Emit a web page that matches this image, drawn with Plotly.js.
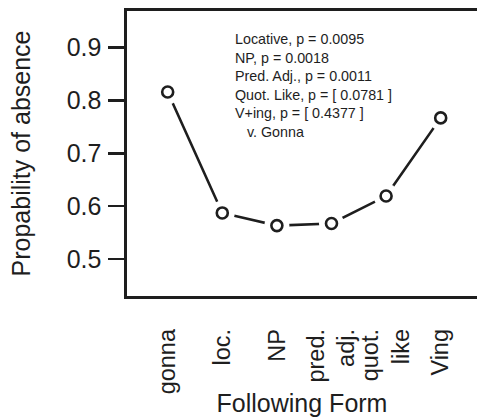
<!DOCTYPE html>
<html>
<head>
<meta charset="utf-8">
<script src="https://cdn.plot.ly/plotly-3.0.1.min.js"></script>
<style>html,body{margin:0;padding:0;background:#fff;}#chart{width:477px;height:417px;}</style>
</head>
<body>
<div id="chart"></div>
<script>
// Data
var categories = ["gonna", "loc.", "NP", "pred.<br>adj.", "quot.<br>like", "Ving"];
var probAbsence = [0.816, 0.587, 0.563, 0.567, 0.619, 0.767];
var yTickValues = [0.5, 0.6, 0.7, 0.8, 0.9];
var yTickLabels = ["0.5", "0.6", "0.7", "0.8", "0.9"];
var noteLines = [
  "Locative, p = 0.0095",
  "NP, p = 0.0018",
  "Pred. Adj., p = 0.0011",
  "Quot. Like, p = [ 0.0781 ]",
  "V+ing, p = [ 0.4377 ]",
  "   v. Gonna"
];

var xs = categories.map(function(_, i){ return i + 1; });
var ink = "#1e1e1e";
var font = "Liberation Sans, Arial, Helvetica, sans-serif";

var traces = [
  {x: xs, y: probAbsence, mode: "lines", line: {color: ink, width: 2.6}, hoverinfo: "skip", showlegend: false},
  {x: xs, y: probAbsence, mode: "markers", marker: {color: "#ffffff", size: 25, line: {width: 0}}, hoverinfo: "skip", showlegend: false},
  {x: xs, y: probAbsence, mode: "markers", marker: {symbol: "circle", color: "#ffffff", size: 11, line: {color: ink, width: 2.6}}, hoverinfo: "skip", showlegend: false}
];

// plot area pixels: left 127, top 11, bottom 296.5
var plotTop = 11, plotBottom = 296.5, plotLeft = 127, plotW = 350;
var noteText = noteLines.map(function(t){
  return t.replace(/^ +/, function(s){ return s.replace(/ /g, "&nbsp;"); });
}).join("<br>");
var noteTopPix = 29.5;

var layout = {
  width: 477, height: 417,
  margin: {l: 127, r: 0, t: 11, b: 120.5, pad: 0},
  paper_bgcolor: "#ffffff", plot_bgcolor: "#ffffff",
  font: {family: font, color: ink, size: 24},
  showlegend: false,
  xaxis: {
    range: [0.255, 6.665],
    tickmode: "array", tickvals: xs, ticktext: categories,
    tickangle: -90, ticks: "", ticklabelstandoff: 21,
    showgrid: false, zeroline: false,
    showline: true, mirror: true, linecolor: ink, linewidth: 2.6,
    tickfont: {family: font, size: 23.5, color: ink},
    title: {text: "Following Form", font: {family: font, size: 25, color: ink}, standoff: 16}
  },
  yaxis: {
    range: [0.4297, 0.9694],
    tickmode: "array", tickvals: yTickValues, ticktext: yTickLabels,
    ticks: "outside", ticklen: 16, tickwidth: 2.6, tickcolor: ink,
    ticklabelstandoff: 2,
    showgrid: false, zeroline: false,
    showline: true, mirror: false, linecolor: ink, linewidth: 2.6,
    tickfont: {family: font, size: 25, color: ink},
    title: {text: "Propability of absence", font: {family: font, size: 25, color: ink}, standoff: 29}
  },
  annotations: [{
    xref: "paper", yref: "paper",
    x: (232.7 - plotLeft) / plotW, xanchor: "left",
    y: (plotBottom - noteTopPix) / (plotBottom - plotTop), yanchor: "top",
    text: noteText, showarrow: false, align: "left",
    font: {family: font, size: 14.3, color: ink}
  }]
};

Plotly.newPlot("chart", traces, layout, {displayModeBar: false, staticPlot: true});
</script>
</body>
</html>
